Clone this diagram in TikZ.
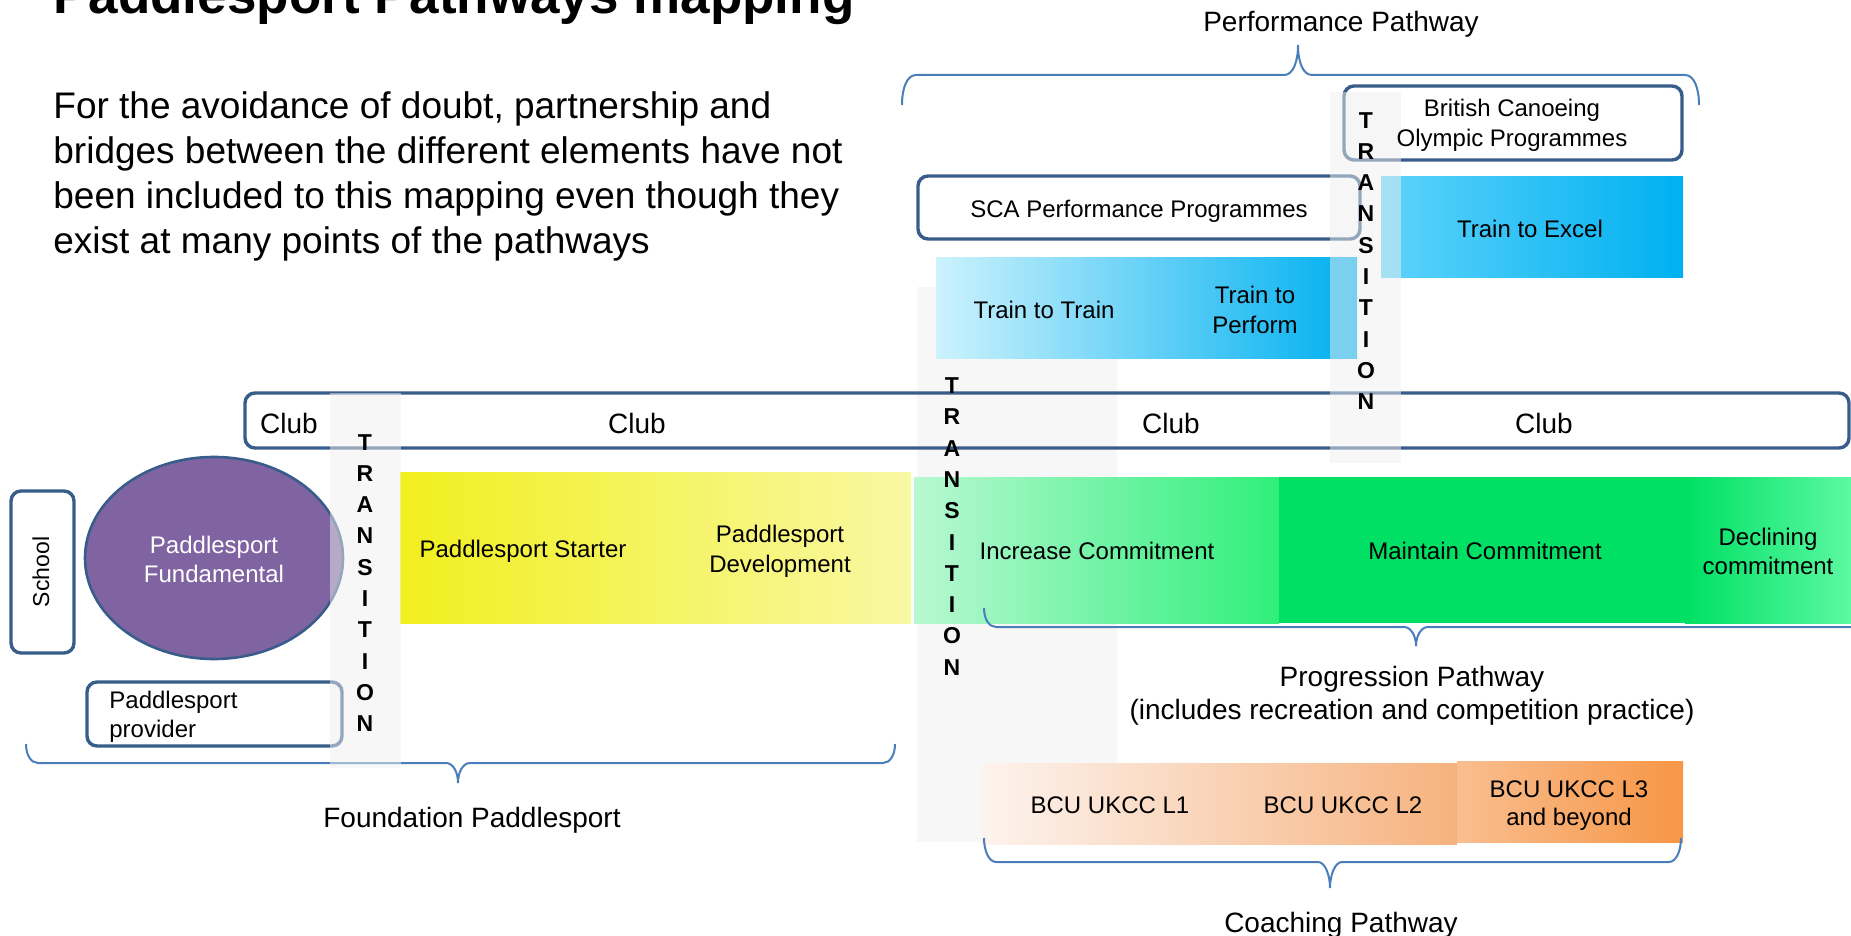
\documentclass[tikz,border=0pt]{standalone}
\usepackage{fontspec}
\setmainfont{Liberation Sans}
\usetikzlibrary{shapes.geometric}
\definecolor{dkblue}{HTML}{385D8A}
\definecolor{brc}{HTML}{4A7EBB}
\definecolor{purp}{HTML}{8064A2}
\definecolor{colgray}{HTML}{EFEFEF}
\definecolor{colgrayb}{HTML}{F7F7F7}
\definecolor{ttl}{HTML}{CCF2FD}
\definecolor{cyanb}{HTML}{00B0F0}
\definecolor{tel}{HTML}{5DD3FB}
\definecolor{yel}{HTML}{F1EF1E}
\definecolor{yer}{HTML}{F9F8A4}
\definecolor{gil}{HTML}{B8F8D2}
\definecolor{gir}{HTML}{30EF7B}
\definecolor{gm}{HTML}{00E064}
\definecolor{gdr}{HTML}{5CF9A2}
\definecolor{ol}{HTML}{FDF3EE}
\definecolor{om}{HTML}{F6B27E}
\definecolor{othl}{HTML}{F9BE90}
\definecolor{othr}{HTML}{F79646}
\begin{document}
\begin{tikzpicture}[x=0.5pt,y=-0.5pt,
  dbox/.style={draw=dkblue,line width=1.7pt,rounded corners=5pt,inner sep=0pt},
  gbar/.style={draw=none,inner sep=0pt},
  colband/.style={draw=none,fill=colgray,fill opacity=0.5,inner sep=0pt},
  txt/.style={font=\fontsize{12}{15}\selectfont,inner sep=0pt,align=center,anchor=base},
  lbl/.style={font=\fontsize{14}{16.5}\selectfont,inner sep=0pt,align=center,anchor=base},
  trans/.style={font=\fontsize{11.5}{15.65}\selectfont\bfseries,inner sep=0pt,align=center},
  bracel/.style={draw=brc,line width=1pt}]
\useasboundingbox (0,0) rectangle (1851,936);
\clip (0,0) rectangle (1851,936);

% background transition band (behind)
\node[gbar,fill=colgrayb,minimum width=100pt,minimum height=277.5pt] (col2) at (1017,564.5) {};

% boxes
\node[dbox,minimum width=802pt,minimum height=27.5pt] (club) at (1047,420.5) {};
\node[dbox,fill=white,minimum width=169pt,minimum height=37pt] (olymp) at (1513,123) {};
\node[dbox,fill=white,minimum width=221pt,minimum height=31.5pt] (sca) at (1139,207.5) {};
\node[gbar,left color=ttl,right color=cyanb,minimum width=210.5pt,minimum height=50pt] (ttt) at (1146.5,308) {};
\node[gbar,left color=tel,right color=cyanb,minimum width=151pt,minimum height=50pt] (tte) at (1532,227) {};
\node[dbox,fill=white,minimum width=31.5pt,minimum height=81pt] (school) at (42.5,572) {};
\node[ellipse,draw=dkblue,line width=1.3pt,fill=purp,minimum width=129pt,minimum height=101pt,inner sep=0pt] (fund) at (214,558) {};
\node[dbox,fill=white,minimum width=127.5pt,minimum height=32pt] (prov) at (214.5,714) {};
\node[gbar,left color=yel,right color=yer,minimum width=255.5pt,minimum height=75.5pt] (yell) at (655.5,547.5) {};
\node[gbar,left color=gil,right color=gir,minimum width=182.5pt,minimum height=73pt] (incr) at (1096.5,550) {};
\node[gbar,fill=gm,minimum width=203pt,minimum height=73pt] (maint) at (1482,550) {};
\node[gbar,left color=gm,right color=gdr,minimum width=83pt,minimum height=73pt] (decl) at (1768,550) {};
\node[gbar,left color=ol,right color=om,minimum width=237.5pt,minimum height=40.5pt] (lot) at (1219.5,803.5) {};
\node[gbar,left color=othl,right color=othr,minimum width=113pt,minimum height=40.5pt] (lthree) at (1570,801.5) {};

% braces
\draw[bracel] (902,105) .. controls (902,88) and (907,75) .. (916,75) -- (1284,75)
  .. controls (1293,75) and (1298,62) .. (1298,45)
  .. controls (1298,62) and (1303,75) .. (1312,75) -- (1685,75)
  .. controls (1694,75) and (1699,88) .. (1699,105);
\draw[bracel] (26,744) .. controls (26,755) and (31,763) .. (38,763) -- (446,763)
  .. controls (453,763) and (458,772) .. (458,783)
  .. controls (458,772) and (463,763) .. (470,763) -- (883,763)
  .. controls (890,763) and (895,755) .. (895,744);
\draw[bracel] (984,608) .. controls (984,619) and (989,627) .. (996,627) -- (1404,627)
  .. controls (1411,627) and (1416,636) .. (1416,646)
  .. controls (1416,636) and (1421,627) .. (1428,627) -- (1868,627)
  .. controls (1875,627) and (1880,619) .. (1880,608);
\draw[bracel] (984,838) .. controls (984,851) and (989,862) .. (996,862) -- (1318,862)
  .. controls (1325,862) and (1330,875) .. (1330,888)
  .. controls (1330,875) and (1335,862) .. (1342,862) -- (1669,862)
  .. controls (1676,862) and (1681,851) .. (1681,838);

% translucent transition bands
\node[colband,minimum width=35.5pt,minimum height=187.5pt] (col1) at (365.5,580.5) {};
\node[colband,minimum width=35.5pt,minimum height=185.5pt] (col3) at (1365.5,277.5) {};

% texts
\node[font=\fontsize{26.5}{30}\selectfont\bfseries,inner sep=0pt,anchor=base west] (title) at (53,14) {Paddlesport Pathways mapping};
\node[font=\fontsize{18.5}{22.5}\selectfont,inner sep=0pt,align=left,anchor=base west] (para) at (53,254)
  {For the avoidance of doubt, partnership and\\bridges between the different elements have not\\been included to this mapping even though they\\exist at many points of the pathways};

\node[lbl] (perfl) at (1341,32) {Performance Pathway};
\node[txt] (olympt) at (1512,147) {British Canoeing\\Olympic Programmes};
\node[txt] (scat) at (1139,218) {SCA Performance Programmes};
\node[txt] (tttt) at (1044,318) {Train to Train};
\node[txt] (ttpt) at (1255,333) {Train to\\Perform};
\node[txt] (ttet) at (1530,237) {Train to Excel};

\node[lbl] (club1) at (289,433) {Club};
\node[lbl] (club2) at (637,433) {Club};
\node[lbl] (club3) at (1171,433) {Club};
\node[lbl] (club4) at (1544,433) {Club};

\node[font=\fontsize{11.5}{14}\selectfont,inner sep=0pt,rotate=90] (schoolt) at (41,572) {School};
\node[txt,text=white,font=\fontsize{12}{14.5}\selectfont] (fundt) at (214,582) {Paddlesport\\Fundamental};
\node[txt,font=\fontsize{12}{14.5}\selectfont,align=left,anchor=base west] (provt) at (109,737) {Paddlesport\\provider};
\node[txt] (startt) at (523,557) {Paddlesport Starter};
\node[txt] (devt) at (780,572) {Paddlesport\\Development};
\node[txt] (incrt) at (1097,559) {Increase Commitment};
\node[txt] (maintt) at (1485,559) {Maintain Commitment};
\node[txt,font=\fontsize{12}{14.5}\selectfont] (declt) at (1768,574) {Declining\\commitment};

\node[lbl] (progl) at (1412,719) {Progression Pathway\\(includes recreation and competition practice)};
\node[txt] (lonet) at (1110,813) {BCU UKCC L1};
\node[txt] (ltwot) at (1343,813) {BCU UKCC L2};
\node[txt,font=\fontsize{12}{14}\selectfont] (lthreet) at (1569,825) {BCU UKCC L3\\and beyond};
\node[lbl] (coachl) at (1341,932) {Coaching Pathway};
\node[lbl] (foundl) at (472,827) {Foundation Paddlesport};

\node[trans] (tr1) at (365,583) {T\\R\\A\\N\\S\\I\\T\\I\\O\\N};
\node[trans] (tr2) at (952,526.5) {T\\R\\A\\N\\S\\I\\T\\I\\O\\N};
\node[trans] (tr3) at (1366,261) {T\\R\\A\\N\\S\\I\\T\\I\\O\\N};
\end{tikzpicture}
\end{document}
